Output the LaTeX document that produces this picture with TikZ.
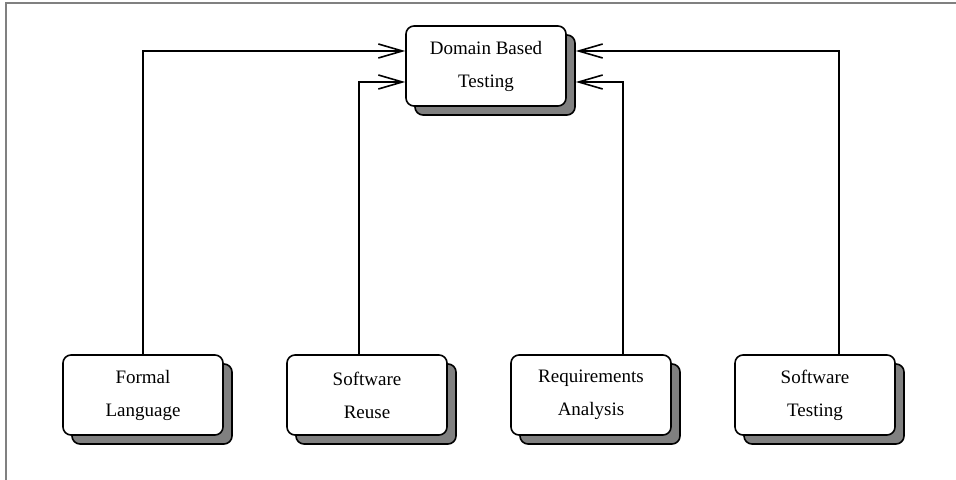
\documentclass[tikz,border=0pt]{standalone}
\usepackage{fontspec}
\setmainfont{Liberation Serif}
\usetikzlibrary{shadows}
\usetikzlibrary{arrows.meta}

\begin{document}
\begin{tikzpicture}[x=0.5pt,y=-0.5pt]

\useasboundingbox (0,0) rectangle (956,480);
\draw[black!50, line width=1pt] (6,480) -- (6,3) -- (956,3);

\begin{scope}[
    every node/.style={
        thick,
        draw,
        rounded corners=4pt,
        minimum width=80pt,
        minimum height=40pt,
        align=center,
        font=\fontsize{9.5}{16.5}\selectfont,
        drop shadow={shadow xshift=4.5pt, shadow yshift=-4.5pt,
                     fill=black!50, draw=black, opacity=1},
        fill=white}]

    \node (dbt) at (486,66) {Domain Based\\Testing};

    \node (formal) at (143,395) {Formal\\Language};
    \node (reuse) at (367,395) {Software\\Reuse};
    \node (reqs) at (591,395) {Requirements\\Analysis};
    \node (swtest) at (815,395) {Software\\Testing};
\end{scope}


\begin{scope}[>={Straight Barb[length=12pt,width=7pt]},
              every path/.style={thick}]

    \draw [->] (formal.north) |- ([yshift=7.5pt]dbt.west);
    \draw [->] ([xshift=-4pt]reuse.north) |- ([yshift=-8pt]dbt.west);
    \draw [->] ([xshift=16pt]reqs.north) |- ([xshift=4.5pt,yshift=-8pt]dbt.east);
    \draw [->] ([xshift=12pt]swtest.north) |- ([xshift=4.5pt,yshift=7.5pt]dbt.east);

\end{scope}
\end{tikzpicture}
\end{document}
